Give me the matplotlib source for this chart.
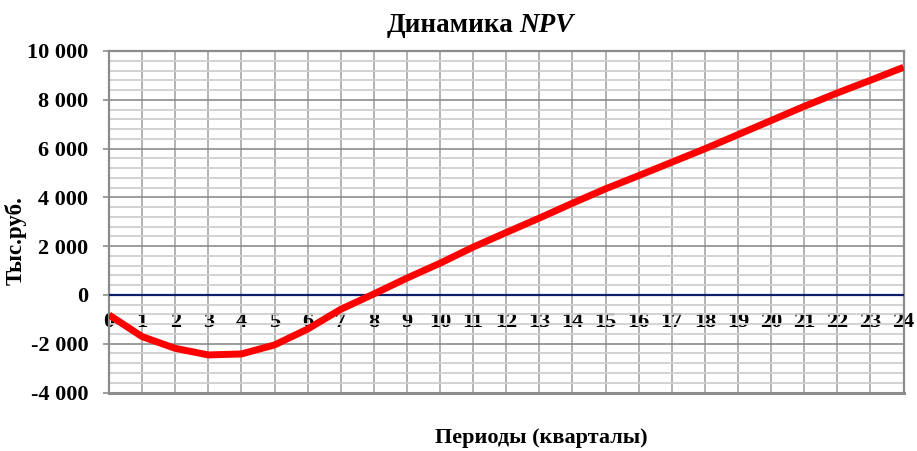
import numpy as np
import matplotlib.pyplot as plt
from matplotlib.ticker import MultipleLocator, FuncFormatter

# данные NPV по кварталам (тыс. руб.)
periods = list(range(0, 25))
npv = [-820, -1710, -2190, -2460, -2420, -2050, -1400, -590, 40,
       690, 1300, 1960, 2560, 3150, 3760, 4350, 4890, 5440, 5990,
       6570, 7150, 7730, 8280, 8800, 9330]
zero_line = [0] * len(periods)

plt.rcParams['font.family'] = ['Liberation Serif', 'DejaVu Serif']
plt.rcParams['font.weight'] = 'bold'

W, H = 917, 451
fig = plt.figure(figsize=(W / 100, H / 100), dpi=100)
ax = fig.add_axes([109 / W, (H - 392.5) / H, (903.5 - 109) / W, 341.5 / H])

ax.set_xlim(0, 24)
ax.set_ylim(-4000, 10000)

# сетка
ax.xaxis.set_major_locator(MultipleLocator(1))
ax.yaxis.set_major_locator(MultipleLocator(2000))
ax.yaxis.set_minor_locator(MultipleLocator(400))
ax.grid(True, which='major', axis='x', color='#a6a6a6', lw=1.2)
ax.grid(True, which='major', axis='y', color='#8c8c8c', lw=1.2)
ax.grid(True, which='minor', axis='y', color='#d0d0d0', lw=1.3)
ax.set_axisbelow(True)

# ось X проходит через 0
ax.spines['bottom'].set_position(('data', 0))
ax.spines['bottom'].set_visible(False)
for s in ['left', 'top', 'right']:
    ax.spines[s].set_color('#8c8c8c')
    ax.spines[s].set_linewidth(1.6)
ax.axhline(-4000, color='#8c8c8c', lw=2.2, zorder=3, clip_on=False)

ax.plot(periods, zero_line, color='#0d1f6b', lw=1.6, zorder=4)
ax.plot(periods, npv, color='#ff0000', lw=5, zorder=5, solid_capstyle='butt')

ax.set_xticks(periods)
ax.tick_params(axis='x', which='both', length=0, pad=12, labelsize=16)
ax.tick_params(axis='y', which='major', length=4, width=1.2, color='#8c8c8c',
               pad=11, labelsize=16)
ax.tick_params(axis='y', which='minor', length=0)
ax.yaxis.set_major_formatter(FuncFormatter(
    lambda v, p: f"{int(v):,}".replace(',', ' ')))
for lab in ax.get_xticklabels() + ax.get_yticklabels():
    lab.set_fontweight('bold')

# заголовок
fig.text(513 / W, (H - 32) / H, 'Динамика', fontsize=19.5, fontweight='bold',
         ha='right', va='baseline')
fig.text(519 / W, (H - 32) / H, 'NPV', fontsize=19.5, fontweight='bold',
         style='italic', ha='left', va='baseline')

fig.text(16 / W, (H - 241) / H, 'Тыс.руб.', fontsize=16.5, fontweight='bold',
         rotation=90, ha='center', va='center')
fig.text(541 / W, (H - 438) / H, 'Периоды (кварталы)', fontsize=16,
         fontweight='bold', ha='center', va='center')

plt.savefig('out.png', dpi=100)
